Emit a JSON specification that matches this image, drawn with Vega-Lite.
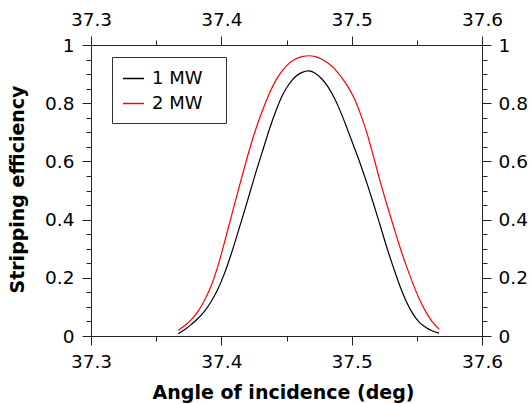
{
  "$schema": "https://vega.github.io/schema/vega-lite/v6.json",
  "width": 391,
  "height": 291,
  "autosize": {"type": "none"},
  "padding": {"left": 91, "top": 45, "right": 50, "bottom": 68},
  "background": "white",
  "data": {"values": [
    {"angle": 37.367, "eff": 0.008, "series": "1 MW"},
    {"angle": 37.372, "eff": 0.022, "series": "1 MW"},
    {"angle": 37.377, "eff": 0.040, "series": "1 MW"},
    {"angle": 37.382, "eff": 0.060, "series": "1 MW"},
    {"angle": 37.387, "eff": 0.085, "series": "1 MW"},
    {"angle": 37.392, "eff": 0.117, "series": "1 MW"},
    {"angle": 37.397, "eff": 0.158, "series": "1 MW"},
    {"angle": 37.402, "eff": 0.210, "series": "1 MW"},
    {"angle": 37.407, "eff": 0.274, "series": "1 MW"},
    {"angle": 37.412, "eff": 0.345, "series": "1 MW"},
    {"angle": 37.417, "eff": 0.419, "series": "1 MW"},
    {"angle": 37.422, "eff": 0.494, "series": "1 MW"},
    {"angle": 37.427, "eff": 0.570, "series": "1 MW"},
    {"angle": 37.432, "eff": 0.641, "series": "1 MW"},
    {"angle": 37.437, "eff": 0.712, "series": "1 MW"},
    {"angle": 37.442, "eff": 0.775, "series": "1 MW"},
    {"angle": 37.447, "eff": 0.828, "series": "1 MW"},
    {"angle": 37.452, "eff": 0.866, "series": "1 MW"},
    {"angle": 37.457, "eff": 0.892, "series": "1 MW"},
    {"angle": 37.462, "eff": 0.906, "series": "1 MW"},
    {"angle": 37.467, "eff": 0.911, "series": "1 MW"},
    {"angle": 37.472, "eff": 0.903, "series": "1 MW"},
    {"angle": 37.477, "eff": 0.884, "series": "1 MW"},
    {"angle": 37.482, "eff": 0.855, "series": "1 MW"},
    {"angle": 37.487, "eff": 0.815, "series": "1 MW"},
    {"angle": 37.492, "eff": 0.765, "series": "1 MW"},
    {"angle": 37.497, "eff": 0.707, "series": "1 MW"},
    {"angle": 37.502, "eff": 0.648, "series": "1 MW"},
    {"angle": 37.507, "eff": 0.587, "series": "1 MW"},
    {"angle": 37.512, "eff": 0.521, "series": "1 MW"},
    {"angle": 37.517, "eff": 0.451, "series": "1 MW"},
    {"angle": 37.522, "eff": 0.378, "series": "1 MW"},
    {"angle": 37.527, "eff": 0.304, "series": "1 MW"},
    {"angle": 37.532, "eff": 0.236, "series": "1 MW"},
    {"angle": 37.537, "eff": 0.172, "series": "1 MW"},
    {"angle": 37.542, "eff": 0.118, "series": "1 MW"},
    {"angle": 37.547, "eff": 0.076, "series": "1 MW"},
    {"angle": 37.552, "eff": 0.047, "series": "1 MW"},
    {"angle": 37.557, "eff": 0.029, "series": "1 MW"},
    {"angle": 37.562, "eff": 0.017, "series": "1 MW"},
    {"angle": 37.567, "eff": 0.010, "series": "1 MW"},
    {"angle": 37.367, "eff": 0.020, "series": "2 MW"},
    {"angle": 37.372, "eff": 0.036, "series": "2 MW"},
    {"angle": 37.377, "eff": 0.056, "series": "2 MW"},
    {"angle": 37.382, "eff": 0.084, "series": "2 MW"},
    {"angle": 37.387, "eff": 0.122, "series": "2 MW"},
    {"angle": 37.392, "eff": 0.170, "series": "2 MW"},
    {"angle": 37.397, "eff": 0.235, "series": "2 MW"},
    {"angle": 37.402, "eff": 0.315, "series": "2 MW"},
    {"angle": 37.407, "eff": 0.400, "series": "2 MW"},
    {"angle": 37.412, "eff": 0.484, "series": "2 MW"},
    {"angle": 37.417, "eff": 0.567, "series": "2 MW"},
    {"angle": 37.422, "eff": 0.647, "series": "2 MW"},
    {"angle": 37.427, "eff": 0.718, "series": "2 MW"},
    {"angle": 37.432, "eff": 0.780, "series": "2 MW"},
    {"angle": 37.437, "eff": 0.835, "series": "2 MW"},
    {"angle": 37.442, "eff": 0.880, "series": "2 MW"},
    {"angle": 37.447, "eff": 0.913, "series": "2 MW"},
    {"angle": 37.452, "eff": 0.937, "series": "2 MW"},
    {"angle": 37.457, "eff": 0.952, "series": "2 MW"},
    {"angle": 37.462, "eff": 0.960, "series": "2 MW"},
    {"angle": 37.467, "eff": 0.963, "series": "2 MW"},
    {"angle": 37.472, "eff": 0.960, "series": "2 MW"},
    {"angle": 37.477, "eff": 0.951, "series": "2 MW"},
    {"angle": 37.482, "eff": 0.937, "series": "2 MW"},
    {"angle": 37.487, "eff": 0.917, "series": "2 MW"},
    {"angle": 37.492, "eff": 0.890, "series": "2 MW"},
    {"angle": 37.497, "eff": 0.858, "series": "2 MW"},
    {"angle": 37.502, "eff": 0.816, "series": "2 MW"},
    {"angle": 37.507, "eff": 0.760, "series": "2 MW"},
    {"angle": 37.512, "eff": 0.693, "series": "2 MW"},
    {"angle": 37.517, "eff": 0.612, "series": "2 MW"},
    {"angle": 37.522, "eff": 0.529, "series": "2 MW"},
    {"angle": 37.527, "eff": 0.452, "series": "2 MW"},
    {"angle": 37.532, "eff": 0.378, "series": "2 MW"},
    {"angle": 37.537, "eff": 0.306, "series": "2 MW"},
    {"angle": 37.542, "eff": 0.240, "series": "2 MW"},
    {"angle": 37.547, "eff": 0.180, "series": "2 MW"},
    {"angle": 37.552, "eff": 0.126, "series": "2 MW"},
    {"angle": 37.557, "eff": 0.082, "series": "2 MW"},
    {"angle": 37.562, "eff": 0.048, "series": "2 MW"},
    {"angle": 37.567, "eff": 0.024, "series": "2 MW"}
  ]},
  "resolve": {"axis": {"x": "independent", "y": "independent"}},
  "layer": [
    {
      "mark": {"type": "line", "strokeWidth": 1.2, "interpolate": "monotone"},
      "encoding": {
        "x": {"field": "angle", "type": "quantitative",
          "scale": {"domain": [37.3, 37.6], "nice": false, "zero": false},
          "axis": {"orient": "bottom", "values": [37.3, 37.4, 37.5, 37.6], "format": ".1~f", "tickSize": 9, "labelPadding": 7,
            "title": "Angle of incidence (deg)", "titleX": 192, "titleY": 47, "titleBaseline": "top"}},
        "y": {"field": "eff", "type": "quantitative",
          "scale": {"domain": [0, 1], "nice": false, "zero": false},
          "axis": {"orient": "left", "values": [0, 0.2, 0.4, 0.6, 0.8, 1], "format": ".1~f", "tickSize": 9, "labelPadding": 8,
            "title": "Stripping efficiency", "titleX": -64, "titleY": 144, "titleAngle": -90, "titleBaseline": "bottom", "titleAlign": "center"}},
        "color": {"field": "series", "type": "nominal",
          "scale": {"domain": ["1 MW", "2 MW"], "range": ["#000000", "#ff0000"]},
          "legend": {"orient": "none", "legendX": 21, "legendY": 12, "title": null,
            "fillColor": "white", "strokeColor": "#333333", "padding": 10, "cornerRadius": 0,
            "symbolType": "stroke", "symbolSize": 441, "symbolStrokeWidth": 1.5,
            "labelFontSize": 18, "labelFont": "DejaVu Sans", "labelColor": "black", "labelOffset": 7, "rowPadding": 4,
            "labelExpr": "datum.label + '\u2800'"}}
      }
    },
    {
      "mark": {"type": "line", "opacity": 0},
      "encoding": {
        "x": {"field": "angle", "type": "quantitative",
          "axis": {"orient": "top", "values": [37.3, 37.4, 37.5, 37.6], "format": ".1~f", "tickSize": 9, "labelPadding": 7, "title": null}},
        "y": {"field": "eff", "type": "quantitative",
          "axis": {"orient": "right", "values": [0, 0.2, 0.4, 0.6, 0.8, 1], "format": ".1~f", "tickSize": 9, "labelPadding": 7, "title": null}},
        "detail": {"field": "series"}
      }
    },
    {
      "mark": {"type": "line", "opacity": 0},
      "encoding": {
        "x": {"field": "angle", "type": "quantitative",
          "axis": {"orient": "bottom", "values": [37.35, 37.45, 37.55], "tickSize": 5, "labels": false, "domain": false, "title": null}},
        "y": {"field": "eff", "type": "quantitative",
          "axis": {"orient": "left", "values": [0.05, 0.1, 0.15, 0.25, 0.3, 0.35, 0.45, 0.5, 0.55, 0.65, 0.7, 0.75, 0.85, 0.9, 0.95], "tickSize": 5, "labels": false, "domain": false, "title": null}},
        "detail": {"field": "series"}
      }
    },
    {
      "mark": {"type": "line", "opacity": 0},
      "encoding": {
        "x": {"field": "angle", "type": "quantitative",
          "axis": {"orient": "top", "values": [37.35, 37.45, 37.55], "tickSize": 5, "labels": false, "domain": false, "title": null}},
        "y": {"field": "eff", "type": "quantitative",
          "axis": {"orient": "right", "values": [0.05, 0.1, 0.15, 0.25, 0.3, 0.35, 0.45, 0.5, 0.55, 0.65, 0.7, 0.75, 0.85, 0.9, 0.95], "tickSize": 5, "labels": false, "domain": false, "title": null}},
        "detail": {"field": "series"}
      }
    }
  ],
  "config": {
    "view": {"stroke": null},
    "font": "DejaVu Sans",
    "axis": {"grid": false, "domainColor": "#222222", "tickColor": "#222222", "domainWidth": 1, "tickWidth": 1,
      "labelColor": "black", "titleColor": "black", "labelFont": "DejaVu Sans", "titleFont": "DejaVu Sans",
      "labelFontSize": 18.5, "titleFontSize": 19, "titleFontWeight": "bold", "labelOverlap": false, "labelFlush": false}
  }
}
